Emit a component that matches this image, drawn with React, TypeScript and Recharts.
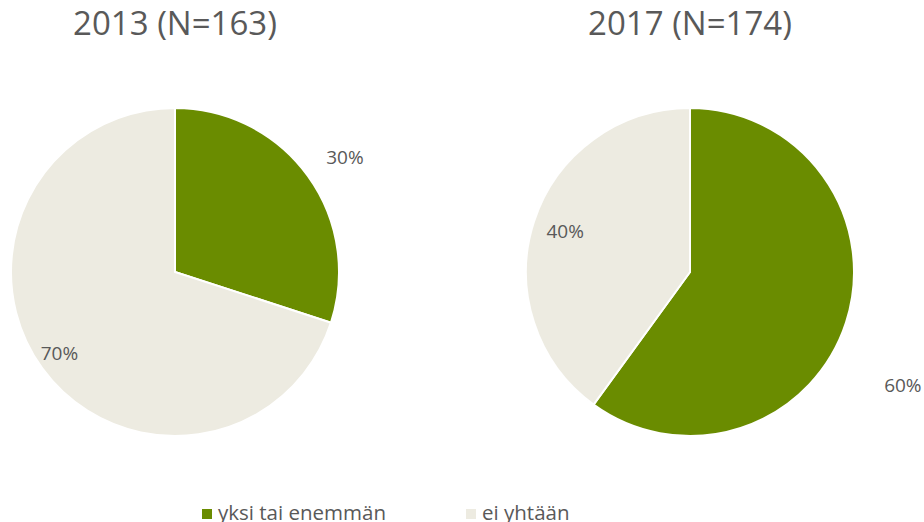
import { PieChart, Pie, Cell, Legend } from "recharts";

const SERIES = ["yksi tai enemmän", "ei yhtään"];
const YEARS = ["2013 (N=163)", "2017 (N=174)"];
const SHARE_2013 = [30, 70];
const SHARE_2017 = [60, 40];

const COLORS = ["#6A8C00", "#EDEBE1"];
const FONT = "'Open Sans', sans-serif";
const TEXT = "#595959";

// label radius factor and angle nudge per slice, mimicking Excel's "best fit"
const LABEL_FIT = [
  [
    { r: 1.25, da: -2 },
    { r: 0.86, da: -1 },
  ],
  [
    { r: 1.47, da: -10 },
    { r: 0.8, da: 0 },
  ],
];

const RADIAN = Math.PI / 180;

const makeLabel = (pieIdx: number) => (props: any) => {
  const { cx, cy, midAngle, outerRadius, index, value } = props;
  const fit = LABEL_FIT[pieIdx][index];
  const a = (midAngle + fit.da) * RADIAN;
  const r = outerRadius * fit.r;
  const x = cx + r * Math.cos(a);
  const y = cy - r * Math.sin(a);
  return (
    <text
      x={x}
      y={y}
      textAnchor="middle"
      dominantBaseline="central"
      fill={TEXT}
      fontSize={19}
      fontFamily={FONT}
    >
      {value}%
    </text>
  );
};

const toRows = (vals: number[]) => SERIES.map((name, i) => ({ name, value: vals[i] }));

const renderLegend = () => (
  <div style={{ display: "flex", fontFamily: FONT, fontSize: 20.5, color: TEXT, lineHeight: "24px" }}>
    {SERIES.map((s, i) => (
      <div key={s} style={{ display: "flex", alignItems: "center", width: i === 0 ? 264 : 150 }}>
        <span style={{ width: 10, height: 10, background: COLORS[i], marginRight: 6, marginTop: 4 }} />
        {s}
      </div>
    ))}
  </div>
);

export default function App() {
  const pies = [SHARE_2013, SHARE_2017];
  const centers = [175, 690];
  return (
    <div style={{ width: 924, height: 522, position: "relative", overflow: "hidden", background: "#fff" }}>
      <style>{"body{margin:0}"}</style>
      {YEARS.map((t, i) => (
        <div
          key={t}
          style={{
            position: "absolute",
            left: centers[i] - 150,
            width: 300,
            top: 0,
            textAlign: "center",
            fontFamily: FONT,
            fontSize: 33,
            color: TEXT,
          }}
        >
          {t}
        </div>
      ))}
      <PieChart
        width={924}
        height={522}
        margin={{ top: 0, right: 0, bottom: 0, left: 0 }}
        style={{ position: "absolute", left: 0, top: 0 }}
      >
        {pies.map((vals, i) => (
          <Pie
            key={i}
            data={toRows(vals)}
            dataKey="value"
            nameKey="name"
            cx={centers[i]}
            cy={272}
            outerRadius={164}
            startAngle={90}
            endAngle={-270}
            stroke="#fff"
            strokeWidth={2}
            labelLine={false}
            label={makeLabel(i)}
            isAnimationActive={false}
          >
            {vals.map((_, j) => (
              <Cell key={j} fill={COLORS[j]} />
            ))}
          </Pie>
        ))}
        <Legend
          content={renderLegend}
          wrapperStyle={{ left: 202, top: 500, width: 440, bottom: "auto" }}
        />
      </PieChart>
    </div>
  );
}
